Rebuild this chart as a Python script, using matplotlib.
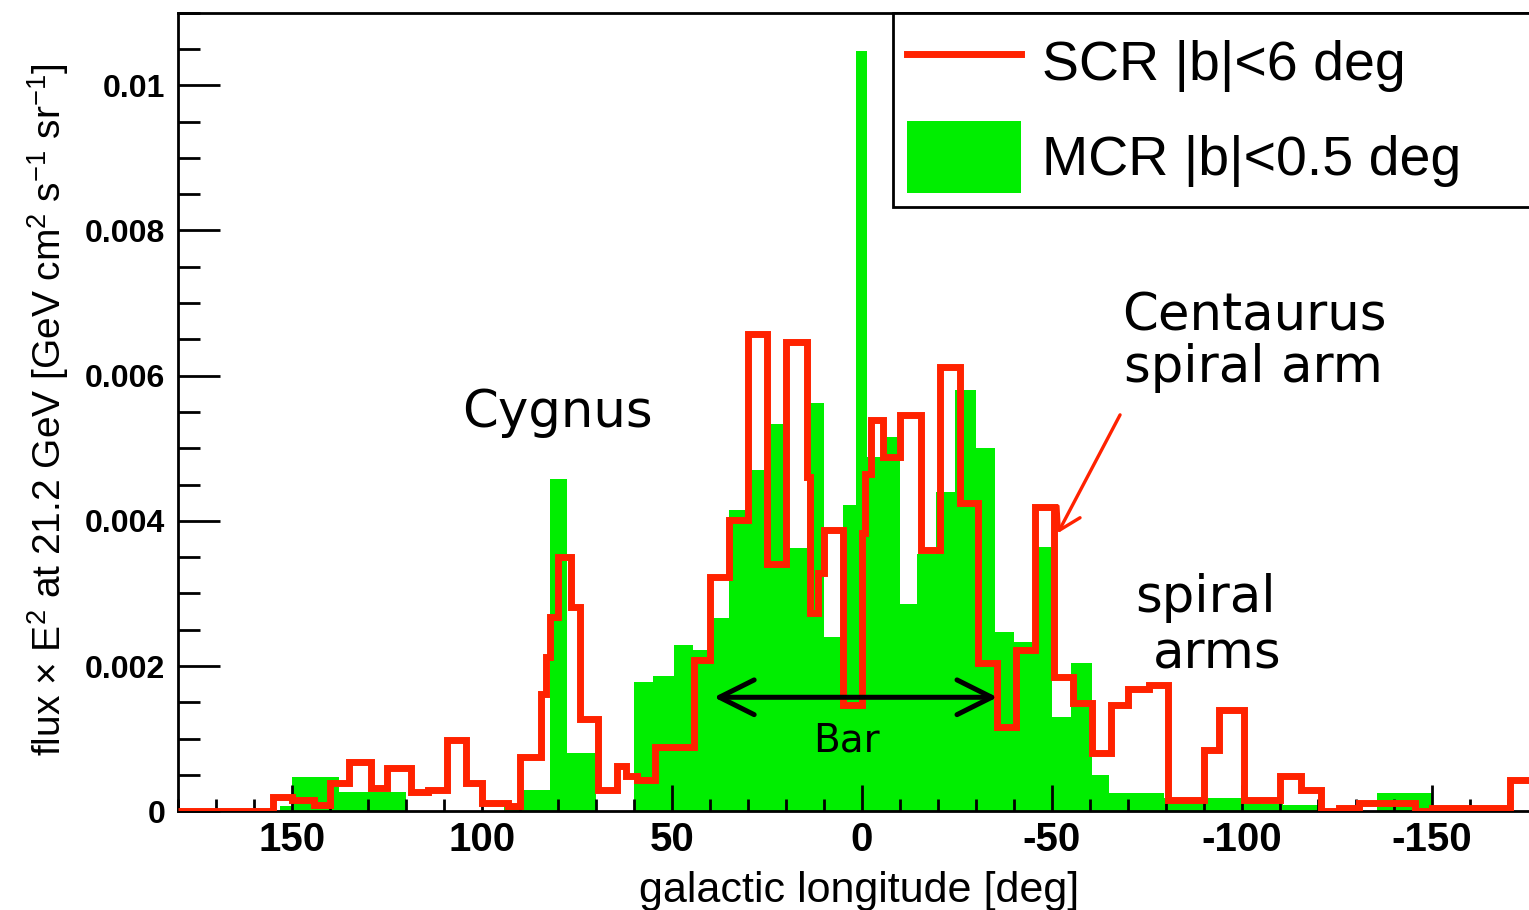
import matplotlib.pyplot as plt
from matplotlib.lines import Line2D
from matplotlib.patches import Patch
from matplotlib.ticker import MultipleLocator
import numpy as np

# bin edges in galactic longitude [deg], read left to right (180 -> -180)
scr_edges = [180, 155, 150, 144, 140, 135, 129, 125, 118.5, 114,
             109, 104, 100, 93, 90, 84.5, 83, 82, 80, 76.5,
             74, 69.5, 64.5, 62, 59, 54.5, 44, 40, 35, 30,
             25, 20, 14.5, 13.5, 11.5, 10, 5, 0, -1, -2.5,
             -5.5, -10, -15.5, -20.5, -26, -30.5, -35.5, -40.5, -45.5, -50.5,
             -55.5, -60.5, -65.5, -70, -75.5, -80.5, -90, -94, -100.5, -110,
             -115.5, -121, -125.5, -131, -145.5, -150, -170.5, -180]
scr_flux = [0, 0.00019, 0.00016, 0.00009, 0.00039, 0.00068, 0.00032, 0.00059, 0.00026, 0.00029,
            0.00098, 0.00039, 0.00011, 0.00007, 0.00075, 0.00162, 0.00213, 0.00268, 0.0035, 0.00282,
            0.00127, 0.00029, 0.00063, 0.00049, 0.00043, 0.00089, 0.00208, 0.00323, 0.00401, 0.00658,
            0.00341, 0.00646, 0.0046, 0.00273, 0.00328, 0.00387, 0.00146, 0.00383, 0.00465, 0.00539,
            0.00488, 0.00546, 0.0036, 0.00612, 0.00424, 0.00204, 0.00116, 0.00222, 0.00419, 0.00185,
            0.00149, 0.0008, 0.00146, 0.00169, 0.00174, 0.00016, 0.00084, 0.00139, 0.00016, 0.00048,
            0.00029, 0.0, 0.00004, 0.00012, 0.0, 0.00004, 0.00043]

mcr_edges = [180, 153, 150, 137.5, 120, 94, 89, 82, 77.5, 70,
             60, 55, 49.5, 44.5, 39.5, 35, 29.5, 24, 19, 14.5,
             10, 5, 1.5, -1.5, -5.5, -10, -14.5, -19.5, -24.5, -30,
             -35, -40, -45.5, -50, -55, -60.5, -65, -79.5, -100, -105,
             -111, -120.5, -135.5, -150, -180]
mcr_flux = [0, 0.00007, 0.00047, 0.00027, 0, 0.0001, 0.00029, 0.00458, 0.0008, 0,
            0.00178, 0.00186, 0.00229, 0.00222, 0.00266, 0.00415, 0.0047, 0.00534, 0.00362, 0.00562,
            0.0024, 0.00422, 0.01047, 0.00488, 0.00516, 0.00285, 0.00355, 0.0044, 0.0058, 0.005,
            0.00247, 0.00233, 0.00364, 0.0013, 0.00204, 0.0005, 0.00025, 0.00018, 0.00013, 0.0001,
            0.00008, 0, 0.00025, 0]

x_ticks = [150, 100, 50, 0, -50, -100, -150]
x_labels = ['150', '100', '50', '0', '-50', '-100', '-150']
y_ticks = [0, 0.002, 0.004, 0.006, 0.008, 0.01]
y_labels = ['0', '0.002', '0.004', '0.006', '0.008', '0.01']

RED = '#ff2200'
GREEN = '#00ee00'

plt.rcParams['font.family'] = ['Liberation Sans', 'DejaVu Sans']
plt.rcParams['mathtext.fontset'] = 'custom'
plt.rcParams['mathtext.rm'] = 'Liberation Sans'
plt.rcParams['mathtext.it'] = 'Liberation Sans:italic'

fig = plt.figure(figsize=(15.29, 9.10), dpi=100)
ax = fig.add_axes([0.1162, 0.1085, 0.8947, 0.8776])

# histograms (stairs wants ascending edges)
ax.stairs(np.array(mcr_flux)[::-1], np.array(mcr_edges)[::-1], fill=True,
          color=GREEN, linewidth=0, zorder=1)
ax.stairs(np.array(scr_flux)[::-1], np.array(scr_edges)[::-1], color=RED,
          linewidth=5, baseline=None, zorder=3)

ax.set_xlim(180, -180)
ax.set_ylim(0, 0.011)

ax.set_xticks(x_ticks)
ax.set_xticklabels(x_labels, fontweight='bold', fontsize=29)
ax.xaxis.set_minor_locator(MultipleLocator(10))
ax.set_yticks(y_ticks)
ax.set_yticklabels(y_labels, fontweight='bold', fontsize=23)
ax.yaxis.set_minor_locator(MultipleLocator(0.0005))

ax.tick_params(axis='x', which='major', direction='in', length=19, width=2, pad=7)
ax.tick_params(axis='x', which='minor', direction='in', length=9, width=2)
ax.tick_params(axis='y', which='major', direction='in', length=30, width=2, pad=9)
ax.tick_params(axis='y', which='minor', direction='in', length=16, width=2)
for sp in ax.spines.values():
    sp.set_linewidth(2)

# axis titles
fig.text(859 / 1529, 1 - 902 / 910, 'galactic longitude [deg]', ha='center',
         va='baseline', fontsize=31)
fig.text(48 / 1529, 1 - 410 / 910,
         r'flux $\times$ E$^{2}$ at 21.2 GeV [GeV cm$^{2}$ s$^{-1}$ sr$^{-1}$]',
         rotation=90, ha='center', va='center', fontsize=28)

# annotations
note = dict(fontsize=37, family='DejaVu Sans', va='baseline', ha='left')
ax.text(105.1, 0.00529, 'Cygnus', **note)
ax.text(-68.6, 0.006625, 'Centaurus', **note)
ax.text(-69.0, 0.005914, 'spiral arm', **note)
ax.text(-72.1, 0.00274, 'spiral', **note)
ax.text(-76.6, 0.00197, 'arms', **note)
ax.text(12.9, 0.00082, 'Bar', fontsize=28, family='DejaVu Sans', va='baseline', ha='left')

ax.annotate('', xy=(-35.7, 0.00157), xytext=(38.9, 0.00157),
            arrowprops=dict(arrowstyle='<->,head_length=0.5,head_width=0.25',
                            mutation_scale=50, lw=3.6, color='black',
                            shrinkA=0, shrinkB=0), zorder=4)
ax.annotate('', xy=(-51.6, 0.00383), xytext=(-68.0, 0.00546),
            arrowprops=dict(arrowstyle='->,head_length=0.5,head_width=0.3',
                            mutation_scale=30, lw=2.4, color=RED,
                            shrinkA=0, shrinkB=0), zorder=4)

# legend box runs off the right edge like in the original
handles = [Line2D([0], [0], color=RED, lw=5), Patch(facecolor=GREEN, edgecolor='none')]
leg = ax.legend(handles, ['SCR |b|<6 deg', 'MCR |b|<0.5 deg'],
                loc='upper left', bbox_to_anchor=(893 / 1529, 1 - 12.7 / 910, 660 / 1529, 0),
                bbox_transform=fig.transFigure, mode='expand', fontsize=40,
                handlelength=2.05, handleheight=1.6, handletextpad=0.38,
                labelspacing=0.42, borderpad=0.25, borderaxespad=0,
                fancybox=False, framealpha=1)
leg.get_frame().set_edgecolor('black')
leg.get_frame().set_linewidth(2)

fig.savefig('out.png', dpi=100)
